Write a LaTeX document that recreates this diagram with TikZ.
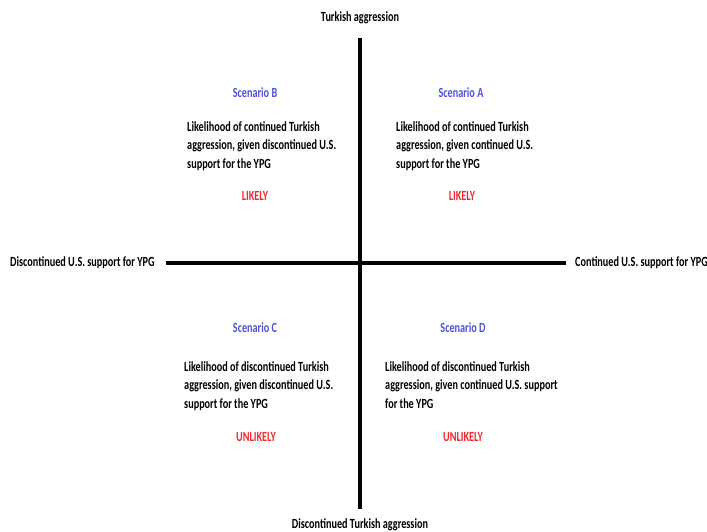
\documentclass[tikz,border=0pt]{standalone}
\usepackage{fontspec}
\setmainfont{Carlito}[FakeStretch=0.73]
\definecolor{scen}{HTML}{5050D8}
\definecolor{lik}{HTML}{F02830}
\begin{document}
\begin{tikzpicture}[x=1pt,y=-1pt,
  lbl/.style={font=\fontsize{14}{18.6}\selectfont\bfseries, inner sep=0pt},
  scen/.style={lbl, text=scen},
  verdict/.style={lbl, text=lik},
  body/.style={lbl, align=left, anchor=base west},
  axis/.style={line width=#1, line cap=butt}]
\useasboundingbox (0,0) rectangle (707,531);
\coordinate (top) at (360,38);
\coordinate (bot) at (360,509);
\coordinate (left) at (166,263);
\coordinate (right) at (566,263);
\draw[axis=3.2pt] (top) -- (bot);
\draw[axis=4pt] (left) -- (right);
\node[lbl] (ta) at (360,18) {Turkish aggression};
\node[lbl] (dta) at (360,525) {Discontinued Turkish aggression};
\node[lbl, anchor=west] (dus) at (10,263) {Discontinued U.S. support for YPG};
\node[lbl, anchor=west] (cus) at (575,263) {Continued U.S. support for YPG};

\node[scen] (sb) at (255,93) {Scenario B};
\node[body] (bb) at (187,168.5) {Likelihood of continued Turkish\\aggression, given discontinued U.S.\\support for the YPG};
\node[verdict] (vb) at (255,196) {LIKELY};

\node[scen] (sa) at (461,93) {Scenario A};
\node[body] (ba) at (396,168.5) {Likelihood of continued Turkish\\aggression, given continued U.S.\\support for the YPG};
\node[verdict] (va) at (462,196) {LIKELY};

\node[scen] (sc) at (255,328) {Scenario C};
\node[body] (bc) at (184,408.5) {Likelihood of discontinued Turkish\\aggression, given discontinued U.S.\\support for the YPG};
\node[verdict] (vc) at (256,437) {UNLIKELY};

\node[scen] (sd) at (463,328) {Scenario D};
\node[body] (bd) at (385,408.5) {Likelihood of discontinued Turkish\\aggression, given continued U.S. support\\for the YPG};
\node[verdict] (vd) at (463,437) {UNLIKELY};
\end{tikzpicture}
\end{document}
